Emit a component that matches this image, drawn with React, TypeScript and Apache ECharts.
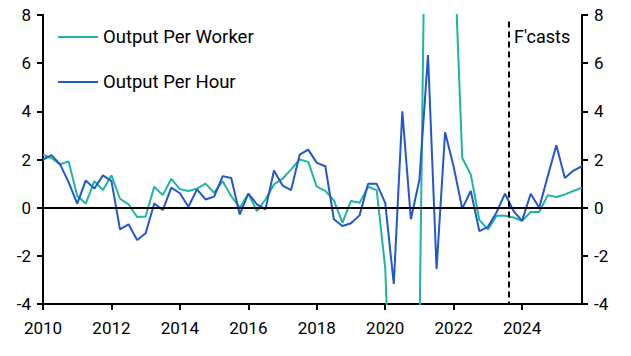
import React, { useEffect, useRef } from "react";
import * as echarts from "echarts";

const startYear = 2010;
const quartersPerYear = 4;
const xTickLabels = ["2010", "2012", "2014", "2016", "2018", "2020", "2022", "2024"];
const yTicks = [-4, -2, 0, 2, 4, 6, 8];
const forecastStart = 2023.6;

const outputPerWorker = [
  2.2, 2.05, 1.8, 1.92, 0.48, 0.17, 1.1, 0.73,
  1.34, 0.37, 0.14, -0.39, -0.37, 0.87, 0.52, 1.2,
  0.77, 0.69, 0.79, 1.0, 0.62, 1.1, 0.48, 0.0,
  0.58, -0.14, 0.34, 0.97, 1.2, 1.59, 2.0, 1.9,
  0.87, 0.7, 0.3, -0.62, 0.28, 0.2, 0.87, 0.73,
  -2.5, -12, -9, -8, -5.3, 22.4, 15, 13,
  11.3, 2.07, 1.38, -0.51, -0.9, -0.34, -0.34, -0.41,
  -0.55, -0.18, -0.18, 0.52, 0.44, 0.55, 0.69, 0.83,
];

const outputPerHour = [
  2.0, 2.18, 1.8, 1.05, 0.17, 1.13, 0.79, 1.34,
  1.1, -0.9, -0.69, -1.34, -1.06, 0.17, -0.1, 0.83,
  0.6, 0.04, 0.76, 0.34, 0.46, 1.31, 1.23, -0.28,
  0.58, 0.14, -0.07, 1.54, 0.92, 0.73, 2.2, 2.41,
  1.86, 1.72, -0.48, -0.76, -0.65, -0.32, 0.99, 0.99,
  0.2, -3.17, 4.0, -0.48, 1.17, 6.34, -2.55, 3.13,
  1.7, -0.04, 0.69, -0.97, -0.8, -0.2, 0.58, -0.14,
  -0.55, 0.58, 0.0, 1.31, 2.59, 1.23, 1.54, 1.72,
];

const FONT = "'Liberation Sans Narrow', 'Arial Narrow', 'Roboto', sans-serif";
const TEAL = "#1db5a3";
const BLUE = "#2357cc";

const toPoints = (vals: number[]) =>
  vals.map((v, i) => [startYear + i / quartersPerYear, v]);

export default function App() {
  const ref = useRef<HTMLDivElement>(null);
  useEffect(() => {
    if (!ref.current) return;
    const chart = echarts.init(ref.current, null, { renderer: "svg" });
    const lastX = startYear + (outputPerWorker.length - 1) / quartersPerYear;
    const yAxisCommon = {
      type: "value" as const,
      min: yTicks[0],
      max: yTicks[yTicks.length - 1],
      interval: 2,
      splitLine: { show: false },
      axisLine: { show: true, lineStyle: { color: "#000", width: 2 } },
      axisTick: { show: true, length: 6, lineStyle: { color: "#000", width: 2 } },
      axisLabel: { color: "#000", fontSize: 17, fontFamily: FONT, margin: 12 },
    };
    chart.setOption({
      animation: false,
      backgroundColor: "#fff",
      grid: { left: 43, right: 49, top: 15, bottom: 52, containLabel: false },
      legend: {
        orient: "vertical",
        left: 53,
        top: 22,
        itemWidth: 40,
        itemHeight: 2,
        itemGap: 25,
        icon: "rect",
        textStyle: { color: "#000", fontSize: 18.5, fontFamily: FONT, lineHeight: 20 },
        data: ["Output Per Worker", "Output Per Hour"],
      },
      xAxis: {
        type: "value",
        min: startYear,
        max: lastX,
        interval: 2,
        splitLine: { show: false },
        axisLine: { onZero: false, lineStyle: { color: "#000", width: 2 } },
        axisTick: { show: true, length: 6, lineStyle: { color: "#000", width: 2 } },
        axisLabel: {
          color: "#000",
          fontSize: 17,
          fontFamily: FONT,
          margin: 15,
          showMaxLabel: false,
          formatter: (v: number) => (xTickLabels.includes(String(v)) ? String(v) : ""),
        },
      },
      yAxis: [
        { ...yAxisCommon, position: "left" },
        { ...yAxisCommon, position: "right" },
      ],
      graphic: [
        {
          type: "text",
          left: 514,
          top: 27,
          style: { text: "F'casts", fill: "#000", fontSize: 18, fontFamily: FONT },
        },
      ],
      series: [
        {
          name: "Output Per Worker",
          type: "line",
          data: toPoints(outputPerWorker),
          showSymbol: false,
          symbol: "none",
          clip: true,
          lineStyle: { color: TEAL, width: 2 },
          itemStyle: { color: TEAL },
          markLine: {
            silent: true,
            symbol: "none",
            label: { show: false },
            lineStyle: { color: "#000", width: 2, type: "solid" },
            data: [{ yAxis: 0 }],
          },
        },
        {
          name: "Output Per Hour",
          type: "line",
          data: toPoints(outputPerHour),
          showSymbol: false,
          symbol: "none",
          clip: true,
          lineStyle: { color: BLUE, width: 2 },
          itemStyle: { color: BLUE },
          markLine: {
            silent: true,
            symbol: "none",
            label: { show: false },
            lineStyle: { color: "#000", width: 2, type: [6, 4] },
            data: [
              [
                { coord: [forecastStart, 7.73] },
                { coord: [forecastStart, yTicks[0]] },
              ],
            ],
          },
        },
      ],
    });
    return () => chart.dispose();
  }, []);
  return (
    <div
      ref={ref}
      style={{ position: "fixed", left: 0, top: 0, width: 631, height: 356, background: "#fff" }}
    />
  );
}
